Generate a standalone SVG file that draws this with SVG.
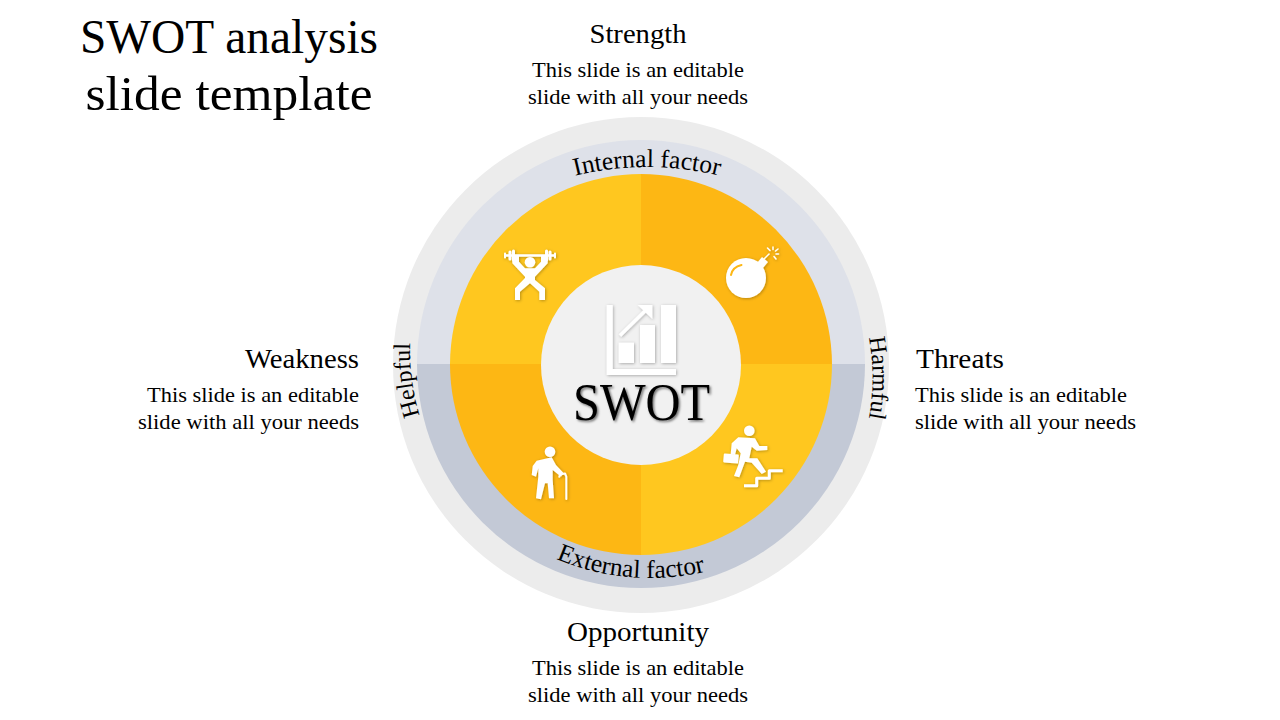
<svg xmlns="http://www.w3.org/2000/svg" width="1280" height="720" viewBox="0 0 1280 720">
<style>
text{font-family:"Liberation Serif","Times New Roman",serif;fill:#000}
.t{font-size:48px;text-anchor:middle}
.h{font-size:27px}
.b{font-size:21.5px}
.m{text-anchor:middle}
.e{text-anchor:end}
.c{font-size:24px;text-anchor:middle}
.c2{font-size:25.5px;text-anchor:middle}
.w{fill:#fff}
.s{fill:none;stroke:#fff;stroke-linecap:round;stroke-linejoin:round}
.i{filter:url(#sh)}
</style>
<defs>
<filter id="sh" x="-20%" y="-20%" width="140%" height="140%"><feDropShadow dx="0.8" dy="0.8" stdDeviation="1.4" flood-color="#000" flood-opacity="0.3"/></filter>
<filter id="ts" x="-10%" y="-10%" width="120%" height="130%"><feDropShadow dx="1.5" dy="1.5" stdDeviation="1.2" flood-color="#000" flood-opacity="0.55"/></filter>
<path id="pi" d="M497 207.200A300 300 0 0 1 797 207.200"/>
<path id="pe" d="M410 338A240 240 0 0 0 890 338"/>
<path id="ph" d="M636 576A226 226 0 0 1 636 124"/>
<path id="pr" d="M643.500 149A229 229 0 0 1 643.500 607"/>
</defs>
<g id="title">
<text class="t" x="229" y="53" textLength="298" lengthAdjust="spacingAndGlyphs">SWOT analysis</text>
<text class="t" x="229" y="110" textLength="287" lengthAdjust="spacingAndGlyphs">slide template</text>
</g>
<g id="wheel">
<circle cx="641" cy="365" r="248" fill="#ececec"/>
<path d="M417 364A224 224 0 0 1 865 364Z" fill="#dee1e9"/>
<path d="M417 364A224 224 0 0 0 865 364Z" fill="#c3c9d6"/>
<path d="M641 364V174A191 191 0 0 0 450 364Z" fill="#ffc71f"/>
<path d="M641 364V174A191 191 0 0 1 832 364Z" fill="#fdb714"/>
<path d="M641 364H832A191 191 0 0 1 641 555Z" fill="#ffc71f"/>
<path d="M641 364H450A191 191 0 0 0 641 555Z" fill="#fdb714"/>
<circle cx="641" cy="365" r="100" fill="#f1f1f1"/>
</g>
<g id="ring-labels">
<text class="c2"><textPath href="#pi" startOffset="50%">Internal factor</textPath></text>
<text class="c2"><textPath href="#pe" startOffset="47.300%">External factor</textPath></text>
<text class="c"><textPath href="#ph" startOffset="45.800%">Helpful</textPath></text>
<text class="c"><textPath href="#pr" startOffset="50%">Harmful</textPath></text>
</g>
<g id="center">
<g class="i">
<path class="w" d="M606.700 305H612.700V369H676V375H606.700Z"/>
<rect class="w" x="618.700" y="342.700" width="15.300" height="20.300"/>
<rect class="w" x="640" y="325" width="15" height="38"/>
<rect class="w" x="661" y="305" width="15" height="58"/>
<path class="s" stroke-width="3.500" style="stroke-linecap:butt" d="M620 335.500L645 311"/>
<path class="w" d="M637.700 305H652.300V319Z"/>
</g>
<text x="641.500" y="420" font-size="52" text-anchor="middle" textLength="137" lengthAdjust="spacingAndGlyphs" filter="url(#ts)">SWOT</text>
</g>
<g id="strength">
<text class="h m" x="638" y="43" textLength="97" lengthAdjust="spacingAndGlyphs">Strength</text>
<text class="b m" x="638" y="77" textLength="212" lengthAdjust="spacingAndGlyphs">This slide is an editable</text>
<text class="b m" x="638" y="104" textLength="220" lengthAdjust="spacingAndGlyphs">slide with all your needs</text>
<g class="i">
<path class="s" stroke-width="2.500" d="M506 255.500H554"/>
<path class="s" stroke-width="2" d="M505 253.500V257.500M555 253.500V257.500"/>
<path class="s" stroke-width="3" d="M510 252V259M513.500 251V260M546.500 251V260M550 252V259"/>
<circle class="w" cx="530" cy="262.300" r="5.300"/>
<path class="w" d="M512.300 255V263.300L525 276.700V278L515 288.300V300H520V291.700L530 283.300L539.300 291.700V300H545V288.300L535 280V276.700L547.700 263.300V255H541V261.700L535 268.300H525L519 261.700V255Z"/>
</g>
</g>
<g id="threats">
<text class="h" x="916" y="368" textLength="88" lengthAdjust="spacingAndGlyphs">Threats</text>
<text class="b" x="915" y="402" textLength="212" lengthAdjust="spacingAndGlyphs">This slide is an editable</text>
<text class="b" x="915" y="429" textLength="221" lengthAdjust="spacingAndGlyphs">slide with all your needs</text>
<g class="i">
<circle class="w" cx="746" cy="278" r="20"/>
<path class="w" d="M757 263L762 257L768 262L763 268Z"/>
<path class="s" stroke-width="1.500" d="M764 259L769 254"/>
<path class="s" stroke-width="1.500" d="M770 250.500L767.500 248M773 249.500V247M775.500 251L778 249M776 254H778.500M774 256.500L776 259"/>
<path d="M731 275Q732.500 267 741.500 265" fill="none" stroke="#fdb714" stroke-width="2" stroke-linecap="round"/>
</g>
</g>
<g id="opportunity">
<text class="h m" x="638" y="641" textLength="142" lengthAdjust="spacingAndGlyphs">Opportunity</text>
<text class="b m" x="638" y="675" textLength="212" lengthAdjust="spacingAndGlyphs">This slide is an editable</text>
<text class="b m" x="638" y="702" textLength="220" lengthAdjust="spacingAndGlyphs">slide with all your needs</text>
<g class="i">
<circle class="w" cx="749.300" cy="430.700" r="5.300"/>
<path class="w" d="M738.300 437.300L755 438.300L759.300 446H767.300V450L756.700 450.700L751.700 446.700L749.300 458.300H757.300L766 471.700L761.700 474L751.700 462.700L745 461.700L739.300 477.300L734 476L738.300 465L740.700 453.300L736.700 448.300L735 455L730.700 454L731.700 443.300Z"/>
<rect class="w" x="723.500" y="454" width="15" height="9" rx="1" transform="rotate(5 731 458.500)"/>
<path class="s" stroke-width="3" style="stroke-linecap:butt" d="M744 485.700H756.700V478.300H769.300V470.700H782.700"/>
</g>
</g>
<g id="weakness">
<text class="h e" x="359" y="368" textLength="114" lengthAdjust="spacingAndGlyphs">Weakness</text>
<text class="b e" x="359" y="402" textLength="212" lengthAdjust="spacingAndGlyphs">This slide is an editable</text>
<text class="b e" x="359" y="429" textLength="221" lengthAdjust="spacingAndGlyphs">slide with all your needs</text>
<g class="i">
<circle class="w" cx="550" cy="451.700" r="5.300"/>
<path class="w" d="M536.700 460.700L551.700 457.300L556 465L563.300 472.700L561 476.700L552.700 470V480L554 498.300H549L547.700 483.300H545L541 499.300L536 498.300L538.300 476.700V468.300L536 476.700L531.700 475L532.700 466Z"/>
<path class="s" stroke-width="2" d="M559.300 476.700L560 474.500L565 473.500L566.300 476.700V499"/>
</g>
</g>
</svg>
